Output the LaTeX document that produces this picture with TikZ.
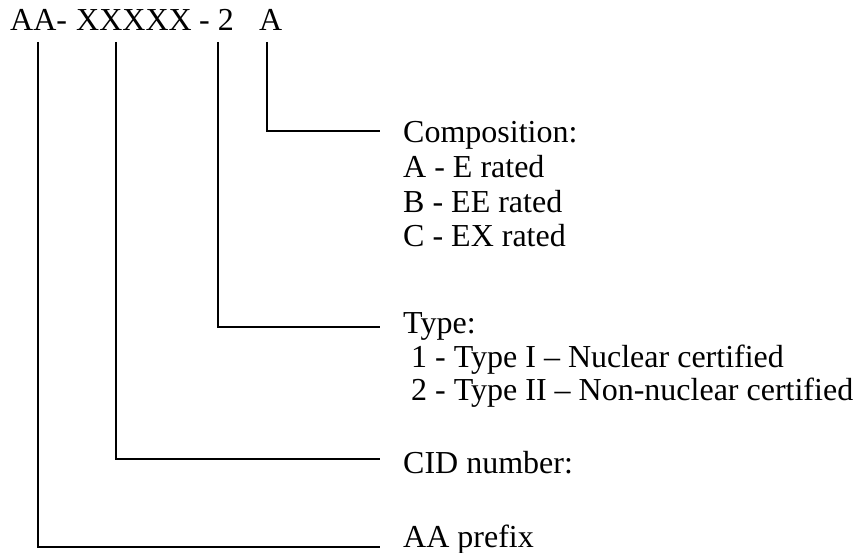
\documentclass[tikz,border=0pt]{standalone}
\usepackage{fontspec}
\setmainfont{Liberation Serif}
\begin{document}
\begin{tikzpicture}[x=1pt,y=1pt,
  txt/.style={inner sep=0pt,anchor=base west,font=\fontsize{32}{36}\selectfont},
  conn/.style={line width=1.6pt,line join=miter}]
\useasboundingbox (0,0) rectangle (859,-553);
% code line
\node[txt] (cAA) at (10,-31) {AA-};
\node[txt] (cX) at (76,-31) {XXXXX};
\node[txt] (cT) at (199,-31) {- 2};
\node[txt] (cC) at (259,-31) {A};
% labels
\node[txt] (comp) at (403,-143) {Composition:};
\node[txt] (compA) at (403,-178) {A - E rated};
\node[txt] (compB) at (403,-213) {B - EE rated};
\node[txt] (compC) at (403,-247) {C - EX rated};
\node[txt] (type) at (403,-333) {Type:};
\node[txt] (type1) at (403,-367) {\ 1 - Type I – Nuclear certified};
\node[txt] (type2) at (403,-400) {\ 2 - Type II – Non-nuclear certified};
\node[txt] (cid) at (403,-473) {CID number:};
\node[txt] (pref) at (403,-547) {AA prefix};
% connector points
\coordinate (sC) at (267,-42);
\coordinate (eC) at (380,-131);
\coordinate (sT) at (218,-42);
\coordinate (eT) at (380,-327);
\coordinate (sX) at (116,-42);
\coordinate (eX) at (380,-459);
\coordinate (sA) at (38,-42);
\coordinate (eA) at (380,-547);
\draw[conn] (sC) |- (eC);
\draw[conn] (sT) |- (eT);
\draw[conn] (sX) |- (eX);
\draw[conn] (sA) |- (eA);
\end{tikzpicture}
\end{document}
